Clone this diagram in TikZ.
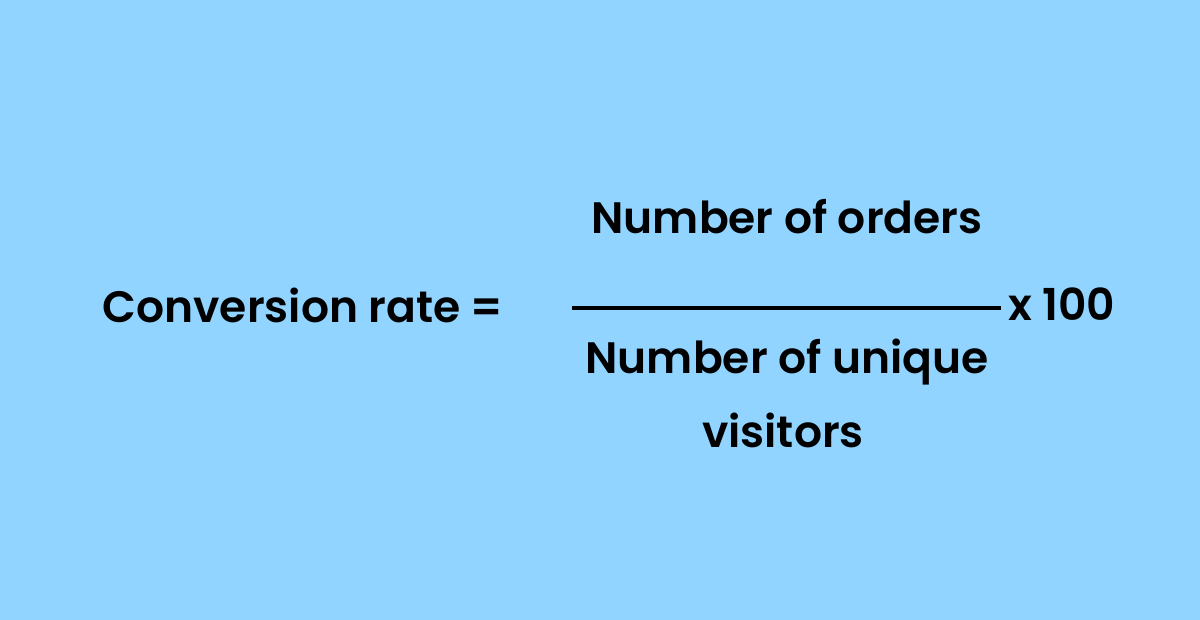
\documentclass[tikz,border=0pt]{standalone}
\usepackage{fontspec}
\setmainfont{Poppins}[UprightFont=* SemiBold]
\definecolor{bg}{HTML}{90D4FF}
\begin{document}
\begin{tikzpicture}[x=1pt,y=-1pt,
  txt/.style={font=\fontsize{44}{50}\selectfont, inner sep=0pt, text=black}]
\fill[bg] (0,0) rectangle (1200,620);
\useasboundingbox (0,0) rectangle (1200,620);
\node[txt] (lhs) at (303,305) {Conversion rate =};
\node[txt] (num) at (787,217) {Number of orders};
\coordinate (l1) at (572,308);
\coordinate (l2) at (1001,308);
\draw[line width=4pt] (l1) -- (l2);
\node[txt, anchor=west] (times) at (1008,304) {x 100};
\node[txt] (den1) at (787,362) {Number of unique};
\node[txt] (den2) at (783,430) {visitors};
\end{tikzpicture}
\end{document}
